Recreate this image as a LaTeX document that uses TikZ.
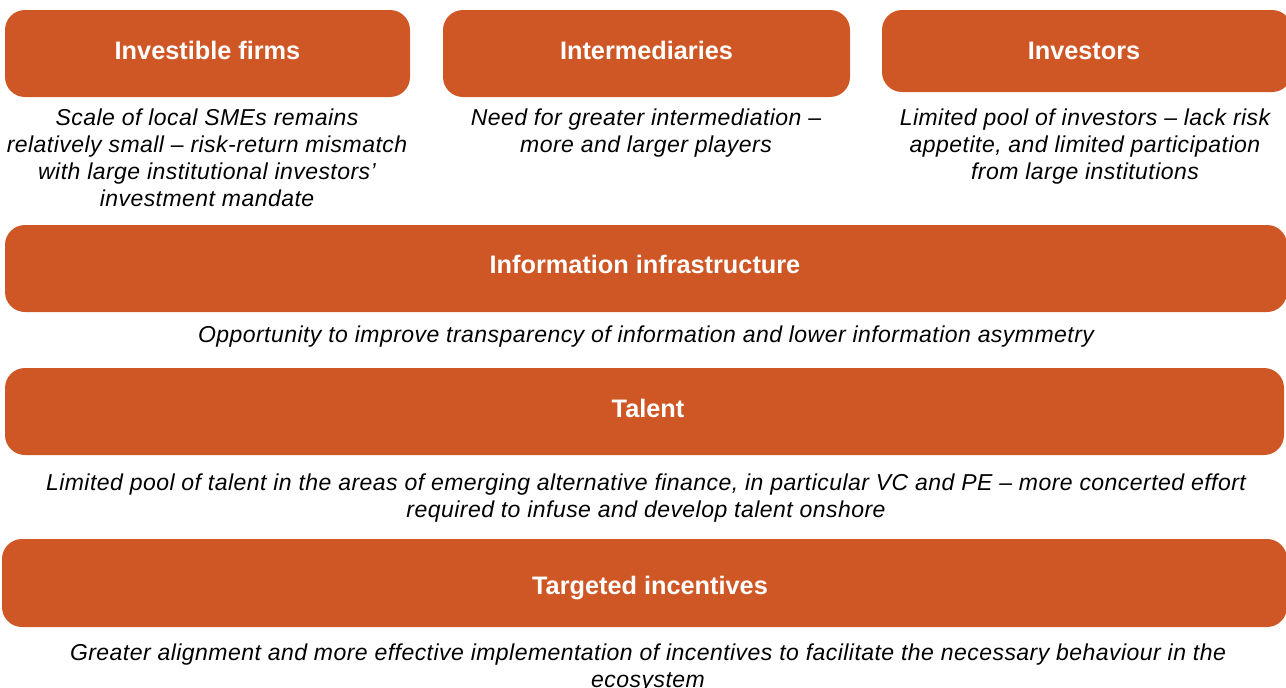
\documentclass[tikz,border=0pt]{standalone}
\usepackage{fontspec}
\setmainfont{Liberation Sans}
\newfontfamily\descfont[LetterSpace=2]{Liberation Sans}
\definecolor{boxorange}{RGB}{207,87,37}
\tikzset{
  box/.style={fill=boxorange, draw=none, rounded corners=20pt, inner sep=0pt},
  title/.style={text=white, font=\fontsize{25.3}{30}\selectfont\bfseries, anchor=base, inner sep=0pt},
  desc/.style={text=black, font=\descfont\fontsize{23}{27}\selectfont\itshape, align=center, anchor=north, inner sep=0pt}
}
\begin{document}
\begin{tikzpicture}[x=1pt,y=-1pt]
\useasboundingbox (0,0) rectangle (1286,688);
% boxes
\node[box, minimum width=405pt, minimum height=87pt] (b1) at (207.5,53.5) {};
\node[box, minimum width=407pt, minimum height=87pt] (b2) at (646.5,53.5) {};
\node[box, minimum width=410pt, minimum height=82pt] (b3) at (1087,51) {};
\node[box, minimum width=1282pt, minimum height=87pt] (b4) at (646,268.5) {};
\node[box, minimum width=1279pt, minimum height=87pt] (b5) at (644.5,411.5) {};
\node[box, minimum width=1285pt, minimum height=88pt] (b6) at (644.5,583) {};
% titles
\node[title] (t1) at (207.5,59) {Investible firms};
\node[title] (t2) at (646.5,59) {Intermediaries};
\node[title] (t3) at (1084,59) {Investors};
\node[title] (t4) at (645,273) {Information infrastructure};
\node[title] (t5) at (648,417.5) {Talent};
\node[title] (t6) at (650,594) {Targeted incentives};
% descriptions
\node[desc] (d1) at (207,109) {Scale of local SMEs remains\\relatively small – risk-return mismatch\\with large institutional investors’\\investment mandate};
\node[desc] (d2) at (646,109) {Need for greater intermediation –\\more and larger players};
\node[desc] (d3) at (1085,109) {Limited pool of investors – lack risk\\appetite, and limited participation\\from large institutions};
\node[desc] (d4) at (646,326) {Opportunity to improve transparency of information and lower information asymmetry};
\node[desc] (d5) at (646,474) {Limited pool of talent in the areas of emerging alternative finance, in particular VC and PE – more concerted effort\\required to infuse and develop talent onshore};
\node[desc] (d6) at (648,644) {Greater alignment and more effective implementation of incentives to facilitate the necessary behaviour in the\\ecosystem};
\end{tikzpicture}
\end{document}
